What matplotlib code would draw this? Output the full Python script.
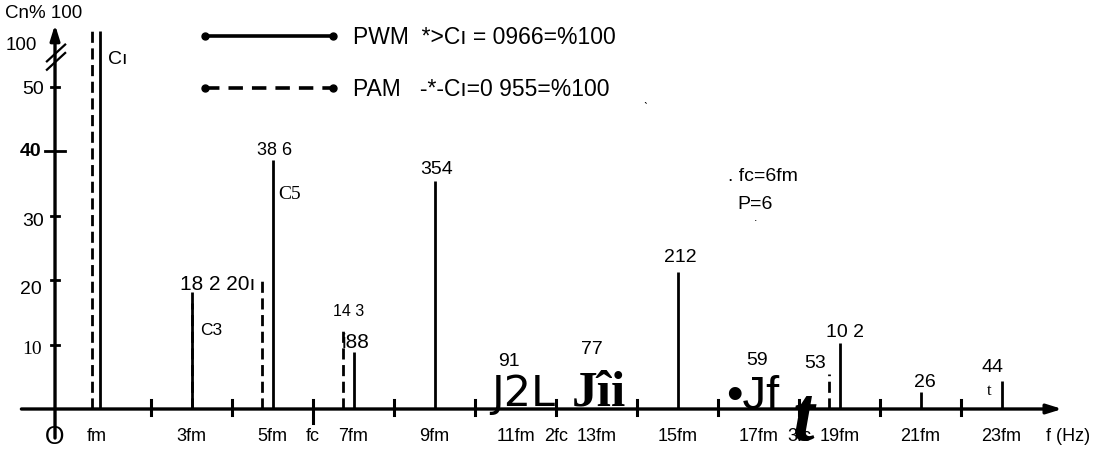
import numpy as np
import matplotlib
matplotlib.use("Agg")
import matplotlib.pyplot as plt

# harmonic orders (multiples of fm) and amplitudes in % of C1
pwm_orders = [1, 3, 5, 7, 9, 15, 19, 21, 23]
pwm_values = [100, 18.2, 38.6, 8.8, 35.4, 21.2, 10.2, 2.6, 4.4]
pam_orders = [1, 3, 5, 7, 19]
pam_values = [100, 16.5, 20.5, 12.8, 5.5]

# orders whose bars came out of the scan as stray glyphs
glyph_orders = [11, 13, 17, 18]
glyph_text = ["J2L", "Jîi", "•Jf", "t"]

tick_orders = [1, 3, 5, 6, 7, 9, 11, 12, 13, 15, 17, 18, 19, 21, 23]
tick_labels = ["fm", "3fm", "5fm", "fc", "7fm", "9fm", "11fm", "2fc", "13fm",
               "15fm", "17fm", "3fc", "19fm", "21fm", "23fm"]
y_ticks = [10, 20, 30, 40, 50]

W, H = 1094, 456
SANS = "Liberation Sans"
SERIF = "Liberation Serif"

fig = plt.figure(figsize=(W / 100, H / 100), dpi=100)
ax = fig.add_axes([0, 0, 1, 1])
ax.set_axis_off()
# pixel fit: x_px = 70 + 40.5*n, y_px = 410 - 6.45*v
ax.set_xlim(-70 / 40.5, (W - 70) / 40.5)
ax.set_ylim((410 - H) / 6.45, 410 / 6.45)

y0 = -0.37      # where the vertical axis stands
cap = 58.6      # C1 bars are cut off at the top


def px(x, y):
    return x / W, 1 - y / H


def xpx(n):
    return 70 + 40.5 * n


def put(s, x, y, size=13.5, family=SANS, ha="left", va="center", **kw):
    ax.text(*px(x, y), s, transform=ax.transAxes, fontsize=size,
            family=family, ha=ha, va=va, **kw)


arrow = dict(arrowstyle="-|>,head_length=0.9,head_width=0.28",
             lw=2.4, color="black", shrinkA=0, shrinkB=0)
ax.annotate("", xy=(24.5, 0), xytext=(-1.2, 0), arrowprops=arrow)
ax.annotate("", xy=(y0, 59.6), xytext=(y0, -4.5), arrowprops=arrow)
# axis break marks
for dy in (0, 1.3):
    ax.plot([y0 - 0.2, y0 + 0.25], [52.6 + dy, 55.2 + dy], color="black", lw=1.6)

# small ticks on the frequency axis
for n in range(2, 24, 2):
    lo = -2.2 if n == 6 else -1.0
    ax.plot([n, n], [lo, 1.4], color="black", lw=2.2)
# y ticks
for v in y_ticks:
    w = 0.25 if v == 40 else 0.1
    ax.plot([y0 - w, y0 + w], [v, v], color="black", lw=2.0)

# spectral lines (the drawing shifts the fundamental and the PAM lines a bit)
pwm_x = np.array(pwm_orders, dtype=float)
pwm_x[0] -= 0.26
pam_x = np.array(pam_orders, dtype=float)
pam_x[0] -= 0.46
pam_x[2:] -= 0.26
ax.vlines(pwm_x, 0, np.minimum(pwm_values, cap), colors="black", lw=2.0)
ax.vlines(pam_x, 0, np.minimum(pam_values, cap), colors="black", lw=2.0,
          linestyles=(0, (4, 2)))

# tick labels
for n, lab in zip(tick_orders, tick_labels):
    x = 97 if n == 1 else xpx(n)
    put(lab, x, 437, size=13, ha="center")
put("f (Hz)", 1068, 437, size=13, ha="center")
put("O", 55, 437, size=18, ha="center")

# y labels
put("Cn% 100", 5, 14, size=13.5)
put("100", 6, 46, size=13.5)
put("50", 22, 90, size=14)
put("40", 20, 152, size=14, weight="bold")
put("30", 22, 222, size=14)
put("20", 20, 290, size=14)
put("10", 22, 350, size=14, family=SERIF)

# line annotations
put("Cı", 108, 60, size=14)
put("38 6", 275, 151, size=13, ha="center")
put("C5", 278, 195, size=14, family=SERIF)
put("18 2 20ı", 180, 285, size=15)
put("C3", 200, 331, size=12.5)
put("14 3", 333, 312, size=11.5)
put("i88", 342, 343, size=15)
put("354", 437, 169, size=14, ha="center")
put("91", 509, 362, size=14, ha="center")
put("77", 592, 350, size=14, ha="center")
put("212", 680, 258, size=14, ha="center")
put("59", 757, 361, size=14, ha="center")
put("53", 815, 364, size=14, ha="center")
put("10 2", 845, 333, size=14, ha="center")
put("26", 925, 383, size=14, ha="center")
put("44", 993, 368, size=14, ha="center")
put("t", 989, 391, size=12, family=SERIF, ha="center")

# stray glyphs over the small harmonics
glyph_style = {
    "J2L": dict(family="DejaVu Sans Condensed", size=31, weight="normal", style="normal"),
    "Jîi": dict(family=SERIF, size=37, weight="bold", style="normal"),
    "•Jf": dict(family=SANS, size=34, weight="normal", style="normal"),
    "t": dict(family=SERIF, size=56, weight="bold", style="italic"),
}
glyph_y = {"J2L": 394, "Jîi": 394, "•Jf": 397, "t": 422}
glyph_dx = {"J2L": 8, "Jîi": 2, "•Jf": -6, "t": 4}
for n, g in zip(glyph_orders, glyph_text):
    st = glyph_style[g]
    put(g, xpx(n) + glyph_dx[g], glyph_y[g], size=st["size"],
        family=st["family"], ha="center", weight=st["weight"], style=st["style"])

# legend
lx = [205 / W, 333 / W]
ax.plot(lx, [1 - 37 / H] * 2, transform=ax.transAxes, color="black", lw=2.6,
        marker="o", markersize=5, markevery=[0, 1])
ax.plot(lx, [1 - 89 / H] * 2, transform=ax.transAxes, color="black", lw=2.6,
        ls=(0, (4, 2.5)), marker="o", markersize=5, markevery=[0, 1])
put("PWM  *>Cı = 0966=%100", 353, 38, size=16.5)
put("PAM   -*-Cı=0 955=%100", 353, 90, size=16.5)
put("\u02ce", 643, 98, size=9)

put(". fc=6fm", 728, 177, size=14)
put("P=6", 737, 205, size=14)
put(".", 754, 218, size=9)

fig.savefig("out.png", dpi=100)
